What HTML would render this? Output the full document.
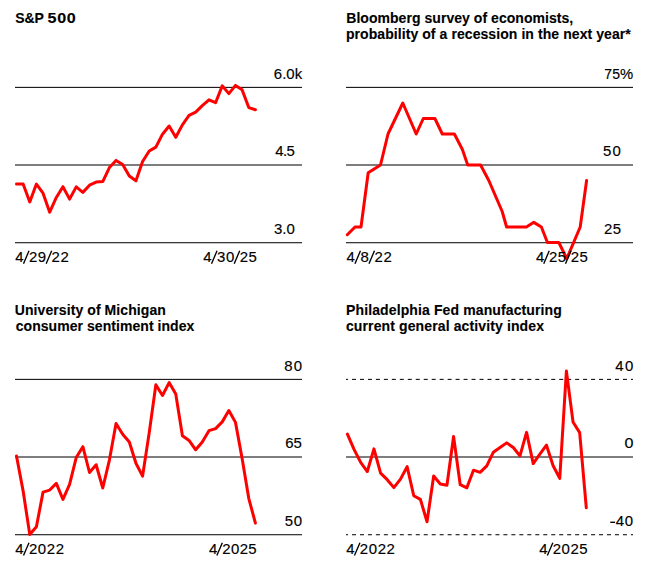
<!DOCTYPE html>
<html><head><meta charset="utf-8"><title>Charts</title>
<style>
html,body{margin:0;padding:0;background:#fff;}
body{width:648px;height:566px;overflow:hidden;}
svg{display:block;}
text{font-family:"Liberation Sans",sans-serif;font-size:14px;fill:#000;}
text{stroke:#000;stroke-width:0.15px;} text[font-weight="bold"]{stroke-width:0.12px;}
</style></head><body>
<svg width="648" height="566" viewBox="0 0 648 566">
<rect width="648" height="566" fill="#fff"/>
<rect x="15.000" y="86" width="287.000" height="1" fill="#dcdcdc"/>
<rect x="15.000" y="87" width="287.000" height="1" fill="#1e1e1e"/>
<rect x="15.000" y="164" width="287.000" height="2" fill="#7e7e7e"/>
<rect x="15.000" y="242" width="287.000" height="1" fill="#3a3a3a"/>
<rect x="15.000" y="243" width="287.000" height="1" fill="#c4c4c4"/>
<rect x="346.000" y="86" width="287.000" height="1" fill="#dcdcdc"/>
<rect x="346.000" y="87" width="287.000" height="1" fill="#1e1e1e"/>
<rect x="346.000" y="164" width="287.000" height="2" fill="#7e7e7e"/>
<rect x="346.000" y="242" width="287.000" height="1" fill="#3a3a3a"/>
<rect x="346.000" y="243" width="287.000" height="1" fill="#c4c4c4"/>
<rect x="15.000" y="378" width="287.000" height="1" fill="#dcdcdc"/>
<rect x="15.000" y="379" width="287.000" height="1" fill="#1e1e1e"/>
<rect x="15.000" y="456" width="287.000" height="2" fill="#7e7e7e"/>
<rect x="15.000" y="534" width="287.000" height="1" fill="#3a3a3a"/>
<rect x="15.000" y="535" width="287.000" height="1" fill="#c4c4c4"/>
<rect x="346.000" y="378" width="2.031" height="1" fill="#dcdcdc"/><rect x="352.000" y="378" width="4.000" height="1" fill="#dcdcdc"/><rect x="359.969" y="378" width="4.000" height="1" fill="#dcdcdc"/><rect x="367.938" y="378" width="4.000" height="1" fill="#dcdcdc"/><rect x="375.907" y="378" width="4.000" height="1" fill="#dcdcdc"/><rect x="383.876" y="378" width="4.000" height="1" fill="#dcdcdc"/><rect x="391.845" y="378" width="4.000" height="1" fill="#dcdcdc"/><rect x="399.814" y="378" width="4.000" height="1" fill="#dcdcdc"/><rect x="407.783" y="378" width="4.000" height="1" fill="#dcdcdc"/><rect x="415.752" y="378" width="4.000" height="1" fill="#dcdcdc"/><rect x="423.721" y="378" width="4.000" height="1" fill="#dcdcdc"/><rect x="431.690" y="378" width="4.000" height="1" fill="#dcdcdc"/><rect x="439.659" y="378" width="4.000" height="1" fill="#dcdcdc"/><rect x="447.628" y="378" width="4.000" height="1" fill="#dcdcdc"/><rect x="455.597" y="378" width="4.000" height="1" fill="#dcdcdc"/><rect x="463.566" y="378" width="4.000" height="1" fill="#dcdcdc"/><rect x="471.535" y="378" width="4.000" height="1" fill="#dcdcdc"/><rect x="479.504" y="378" width="4.000" height="1" fill="#dcdcdc"/><rect x="487.473" y="378" width="4.000" height="1" fill="#dcdcdc"/><rect x="495.442" y="378" width="4.000" height="1" fill="#dcdcdc"/><rect x="503.411" y="378" width="4.000" height="1" fill="#dcdcdc"/><rect x="511.380" y="378" width="4.000" height="1" fill="#dcdcdc"/><rect x="519.349" y="378" width="4.000" height="1" fill="#dcdcdc"/><rect x="527.318" y="378" width="4.000" height="1" fill="#dcdcdc"/><rect x="535.287" y="378" width="4.000" height="1" fill="#dcdcdc"/><rect x="543.256" y="378" width="4.000" height="1" fill="#dcdcdc"/><rect x="551.225" y="378" width="4.000" height="1" fill="#dcdcdc"/><rect x="559.194" y="378" width="4.000" height="1" fill="#dcdcdc"/><rect x="567.163" y="378" width="4.000" height="1" fill="#dcdcdc"/><rect x="575.132" y="378" width="4.000" height="1" fill="#dcdcdc"/><rect x="583.101" y="378" width="4.000" height="1" fill="#dcdcdc"/><rect x="591.070" y="378" width="4.000" height="1" fill="#dcdcdc"/><rect x="599.039" y="378" width="4.000" height="1" fill="#dcdcdc"/><rect x="607.008" y="378" width="4.000" height="1" fill="#dcdcdc"/><rect x="614.977" y="378" width="4.000" height="1" fill="#dcdcdc"/><rect x="622.946" y="378" width="4.000" height="1" fill="#dcdcdc"/><rect x="630.915" y="378" width="2.085" height="1" fill="#dcdcdc"/>
<rect x="346.000" y="379" width="2.031" height="1" fill="#1e1e1e"/><rect x="352.000" y="379" width="4.000" height="1" fill="#1e1e1e"/><rect x="359.969" y="379" width="4.000" height="1" fill="#1e1e1e"/><rect x="367.938" y="379" width="4.000" height="1" fill="#1e1e1e"/><rect x="375.907" y="379" width="4.000" height="1" fill="#1e1e1e"/><rect x="383.876" y="379" width="4.000" height="1" fill="#1e1e1e"/><rect x="391.845" y="379" width="4.000" height="1" fill="#1e1e1e"/><rect x="399.814" y="379" width="4.000" height="1" fill="#1e1e1e"/><rect x="407.783" y="379" width="4.000" height="1" fill="#1e1e1e"/><rect x="415.752" y="379" width="4.000" height="1" fill="#1e1e1e"/><rect x="423.721" y="379" width="4.000" height="1" fill="#1e1e1e"/><rect x="431.690" y="379" width="4.000" height="1" fill="#1e1e1e"/><rect x="439.659" y="379" width="4.000" height="1" fill="#1e1e1e"/><rect x="447.628" y="379" width="4.000" height="1" fill="#1e1e1e"/><rect x="455.597" y="379" width="4.000" height="1" fill="#1e1e1e"/><rect x="463.566" y="379" width="4.000" height="1" fill="#1e1e1e"/><rect x="471.535" y="379" width="4.000" height="1" fill="#1e1e1e"/><rect x="479.504" y="379" width="4.000" height="1" fill="#1e1e1e"/><rect x="487.473" y="379" width="4.000" height="1" fill="#1e1e1e"/><rect x="495.442" y="379" width="4.000" height="1" fill="#1e1e1e"/><rect x="503.411" y="379" width="4.000" height="1" fill="#1e1e1e"/><rect x="511.380" y="379" width="4.000" height="1" fill="#1e1e1e"/><rect x="519.349" y="379" width="4.000" height="1" fill="#1e1e1e"/><rect x="527.318" y="379" width="4.000" height="1" fill="#1e1e1e"/><rect x="535.287" y="379" width="4.000" height="1" fill="#1e1e1e"/><rect x="543.256" y="379" width="4.000" height="1" fill="#1e1e1e"/><rect x="551.225" y="379" width="4.000" height="1" fill="#1e1e1e"/><rect x="559.194" y="379" width="4.000" height="1" fill="#1e1e1e"/><rect x="567.163" y="379" width="4.000" height="1" fill="#1e1e1e"/><rect x="575.132" y="379" width="4.000" height="1" fill="#1e1e1e"/><rect x="583.101" y="379" width="4.000" height="1" fill="#1e1e1e"/><rect x="591.070" y="379" width="4.000" height="1" fill="#1e1e1e"/><rect x="599.039" y="379" width="4.000" height="1" fill="#1e1e1e"/><rect x="607.008" y="379" width="4.000" height="1" fill="#1e1e1e"/><rect x="614.977" y="379" width="4.000" height="1" fill="#1e1e1e"/><rect x="622.946" y="379" width="4.000" height="1" fill="#1e1e1e"/><rect x="630.915" y="379" width="2.085" height="1" fill="#1e1e1e"/>
<rect x="346.000" y="456" width="287.000" height="2" fill="#7e7e7e"/>
<rect x="346.000" y="534" width="2.031" height="1" fill="#3a3a3a"/><rect x="352.000" y="534" width="4.000" height="1" fill="#3a3a3a"/><rect x="359.969" y="534" width="4.000" height="1" fill="#3a3a3a"/><rect x="367.938" y="534" width="4.000" height="1" fill="#3a3a3a"/><rect x="375.907" y="534" width="4.000" height="1" fill="#3a3a3a"/><rect x="383.876" y="534" width="4.000" height="1" fill="#3a3a3a"/><rect x="391.845" y="534" width="4.000" height="1" fill="#3a3a3a"/><rect x="399.814" y="534" width="4.000" height="1" fill="#3a3a3a"/><rect x="407.783" y="534" width="4.000" height="1" fill="#3a3a3a"/><rect x="415.752" y="534" width="4.000" height="1" fill="#3a3a3a"/><rect x="423.721" y="534" width="4.000" height="1" fill="#3a3a3a"/><rect x="431.690" y="534" width="4.000" height="1" fill="#3a3a3a"/><rect x="439.659" y="534" width="4.000" height="1" fill="#3a3a3a"/><rect x="447.628" y="534" width="4.000" height="1" fill="#3a3a3a"/><rect x="455.597" y="534" width="4.000" height="1" fill="#3a3a3a"/><rect x="463.566" y="534" width="4.000" height="1" fill="#3a3a3a"/><rect x="471.535" y="534" width="4.000" height="1" fill="#3a3a3a"/><rect x="479.504" y="534" width="4.000" height="1" fill="#3a3a3a"/><rect x="487.473" y="534" width="4.000" height="1" fill="#3a3a3a"/><rect x="495.442" y="534" width="4.000" height="1" fill="#3a3a3a"/><rect x="503.411" y="534" width="4.000" height="1" fill="#3a3a3a"/><rect x="511.380" y="534" width="4.000" height="1" fill="#3a3a3a"/><rect x="519.349" y="534" width="4.000" height="1" fill="#3a3a3a"/><rect x="527.318" y="534" width="4.000" height="1" fill="#3a3a3a"/><rect x="535.287" y="534" width="4.000" height="1" fill="#3a3a3a"/><rect x="543.256" y="534" width="4.000" height="1" fill="#3a3a3a"/><rect x="551.225" y="534" width="4.000" height="1" fill="#3a3a3a"/><rect x="559.194" y="534" width="4.000" height="1" fill="#3a3a3a"/><rect x="567.163" y="534" width="4.000" height="1" fill="#3a3a3a"/><rect x="575.132" y="534" width="4.000" height="1" fill="#3a3a3a"/><rect x="583.101" y="534" width="4.000" height="1" fill="#3a3a3a"/><rect x="591.070" y="534" width="4.000" height="1" fill="#3a3a3a"/><rect x="599.039" y="534" width="4.000" height="1" fill="#3a3a3a"/><rect x="607.008" y="534" width="4.000" height="1" fill="#3a3a3a"/><rect x="614.977" y="534" width="4.000" height="1" fill="#3a3a3a"/><rect x="622.946" y="534" width="4.000" height="1" fill="#3a3a3a"/><rect x="630.915" y="534" width="2.085" height="1" fill="#3a3a3a"/>
<rect x="346.000" y="535" width="2.031" height="1" fill="#c4c4c4"/><rect x="352.000" y="535" width="4.000" height="1" fill="#c4c4c4"/><rect x="359.969" y="535" width="4.000" height="1" fill="#c4c4c4"/><rect x="367.938" y="535" width="4.000" height="1" fill="#c4c4c4"/><rect x="375.907" y="535" width="4.000" height="1" fill="#c4c4c4"/><rect x="383.876" y="535" width="4.000" height="1" fill="#c4c4c4"/><rect x="391.845" y="535" width="4.000" height="1" fill="#c4c4c4"/><rect x="399.814" y="535" width="4.000" height="1" fill="#c4c4c4"/><rect x="407.783" y="535" width="4.000" height="1" fill="#c4c4c4"/><rect x="415.752" y="535" width="4.000" height="1" fill="#c4c4c4"/><rect x="423.721" y="535" width="4.000" height="1" fill="#c4c4c4"/><rect x="431.690" y="535" width="4.000" height="1" fill="#c4c4c4"/><rect x="439.659" y="535" width="4.000" height="1" fill="#c4c4c4"/><rect x="447.628" y="535" width="4.000" height="1" fill="#c4c4c4"/><rect x="455.597" y="535" width="4.000" height="1" fill="#c4c4c4"/><rect x="463.566" y="535" width="4.000" height="1" fill="#c4c4c4"/><rect x="471.535" y="535" width="4.000" height="1" fill="#c4c4c4"/><rect x="479.504" y="535" width="4.000" height="1" fill="#c4c4c4"/><rect x="487.473" y="535" width="4.000" height="1" fill="#c4c4c4"/><rect x="495.442" y="535" width="4.000" height="1" fill="#c4c4c4"/><rect x="503.411" y="535" width="4.000" height="1" fill="#c4c4c4"/><rect x="511.380" y="535" width="4.000" height="1" fill="#c4c4c4"/><rect x="519.349" y="535" width="4.000" height="1" fill="#c4c4c4"/><rect x="527.318" y="535" width="4.000" height="1" fill="#c4c4c4"/><rect x="535.287" y="535" width="4.000" height="1" fill="#c4c4c4"/><rect x="543.256" y="535" width="4.000" height="1" fill="#c4c4c4"/><rect x="551.225" y="535" width="4.000" height="1" fill="#c4c4c4"/><rect x="559.194" y="535" width="4.000" height="1" fill="#c4c4c4"/><rect x="567.163" y="535" width="4.000" height="1" fill="#c4c4c4"/><rect x="575.132" y="535" width="4.000" height="1" fill="#c4c4c4"/><rect x="583.101" y="535" width="4.000" height="1" fill="#c4c4c4"/><rect x="591.070" y="535" width="4.000" height="1" fill="#c4c4c4"/><rect x="599.039" y="535" width="4.000" height="1" fill="#c4c4c4"/><rect x="607.008" y="535" width="4.000" height="1" fill="#c4c4c4"/><rect x="614.977" y="535" width="4.000" height="1" fill="#c4c4c4"/><rect x="622.946" y="535" width="4.000" height="1" fill="#c4c4c4"/><rect x="630.915" y="535" width="2.085" height="1" fill="#c4c4c4"/>
<path d="M16.50,184.02 L23.14,184.01 L29.77,201.92 L36.41,184.10 L43.04,193.16 L49.68,212.24 L56.32,197.45 L62.95,186.69 L69.59,199.13 L76.22,186.88 L82.86,192.38 L89.50,185.19 L96.13,182.08 L102.77,181.54 L109.40,167.56 L116.04,160.40 L122.68,164.60 L129.31,175.95 L135.95,180.82 L142.58,161.50 L149.22,151.06 L155.86,147.14 L162.49,134.19 L169.13,126.03 L175.76,137.32 L182.40,124.83 L189.04,115.38 L195.67,112.18 L202.31,105.67 L208.94,99.77 L215.58,102.72 L222.22,85.83 L228.85,93.62 L235.49,85.41 L242.12,89.85 L248.76,107.55 L255.40,109.77" fill="none" stroke="#ff0000" stroke-width="3" stroke-linejoin="round" stroke-linecap="round"/>
<path d="M347.30,234.75 L355.00,227.00 L361.00,227.00 L368.20,172.75 L380.50,165.00 L388.00,134.00 L402.80,103.00 L416.20,134.00 L423.30,118.50 L434.90,118.50 L442.30,134.00 L454.40,134.00 L462.40,149.50 L467.70,165.00 L480.60,165.00 L488.80,180.50 L502.20,211.50 L506.60,227.00 L526.40,227.00 L533.80,222.35 L541.40,227.00 L547.40,242.50 L558.80,242.50 L566.80,258.62 L580.20,227.00 L586.60,180.50" fill="none" stroke="#ff0000" stroke-width="3" stroke-linejoin="round" stroke-linecap="round"/>
<path d="M16.50,455.97 L23.14,491.10 L29.77,534.50 L36.41,526.75 L43.04,492.13 L49.68,490.07 L56.32,483.35 L62.95,499.37 L69.59,484.38 L76.22,457.52 L82.86,446.67 L89.50,472.50 L96.13,464.75 L102.77,488.00 L109.40,460.10 L116.04,423.42 L122.68,434.27 L129.31,442.02 L135.95,463.20 L142.58,476.12 L149.22,432.72 L155.86,384.67 L162.49,395.52 L169.13,382.60 L175.76,393.97 L182.40,435.82 L189.04,440.47 L195.67,449.77 L202.31,442.02 L208.94,430.65 L215.58,428.58 L222.22,421.87 L228.85,410.50 L235.49,422.38 L242.12,458.55 L248.76,498.33 L255.40,523.13" fill="none" stroke="#ff0000" stroke-width="3" stroke-linejoin="round" stroke-linecap="round"/>
<path d="M347.40,434.14 L354.04,449.44 L360.67,462.43 L367.31,471.53 L373.94,448.86 L380.58,473.08 L387.22,479.67 L393.85,487.61 L400.49,479.09 L407.12,466.69 L413.76,495.75 L420.40,499.43 L427.03,521.71 L433.67,475.99 L440.30,483.93 L446.94,485.29 L453.58,436.46 L460.21,484.71 L466.85,487.81 L473.48,470.18 L480.12,472.31 L486.76,465.91 L493.39,452.16 L500.03,447.51 L506.66,442.86 L513.30,447.51 L519.94,455.84 L526.57,432.39 L533.21,463.59 L539.84,454.09 L546.48,445.18 L553.12,465.72 L559.75,478.31 L566.39,370.98 L573.02,421.93 L579.66,432.59 L586.30,507.76" fill="none" stroke="#ff0000" stroke-width="3" stroke-linejoin="round" stroke-linecap="round"/>
<text id="t1a" transform="translate(15.306,22.8)" letter-spacing="-0.086" font-weight="bold">S&amp;P</text>
<text id="t1b" transform="translate(47.471,22.8) scale(1.15,1)" letter-spacing="0.642" font-weight="bold">500</text>
<text id="t2a" transform="translate(346.224,22.8)" letter-spacing="0.046" font-weight="bold">Bloomberg survey of economists,</text>
<text id="t2b" transform="translate(345.886,39.4)" letter-spacing="0.075" font-weight="bold">probability of a recession in the next year*</text>
<text id="t3a" transform="translate(14.733,314.8)" letter-spacing="0.084" font-weight="bold">University of Michigan</text>
<text id="t3b" transform="translate(15.722,331.4)" letter-spacing="0.054" font-weight="bold">consumer sentiment index</text>
<text id="t4a" transform="translate(346.016,314.8)" letter-spacing="0.119" font-weight="bold">Philadelphia Fed manufacturing</text>
<text id="t4b" transform="translate(345.922,331.4)" letter-spacing="0.122" font-weight="bold">current general activity index</text>
<text id="y1a" transform="translate(273.780,78.8) scale(1.07,1)" letter-spacing="0.040">6.0k</text>
<text id="y1b" transform="translate(275.267,156.0) scale(1.07,1)" letter-spacing="-0.599">4.5</text>
<text id="y1c" transform="translate(274.090,233.8) scale(1.07,1)" letter-spacing="-0.062">3.0</text>
<text id="y2a" transform="translate(604.340,78.8)" letter-spacing="0.000">75</text>
<text id="y2p" transform="translate(619.900,78.8) scale(1.06,1)" letter-spacing="0.000">%</text>
<text id="y2b" transform="translate(603.055,156.0) scale(1.07,1)" letter-spacing="1.138">50</text>
<text id="y2c" transform="translate(604.102,233.8) scale(1.07,1)" letter-spacing="0.381">25</text>
<text id="y3a" transform="translate(284.353,370.8) scale(1.07,1)" letter-spacing="1.057">80</text>
<text id="y3b" transform="translate(285.333,448.0) scale(1.07,1)" letter-spacing="-0.070">65</text>
<text id="y3c" transform="translate(284.847,525.8) scale(1.07,1)" letter-spacing="0.603">50</text>
<text id="y4a" transform="translate(615.235,370.8) scale(1.07,1)" letter-spacing="1.371">40</text>
<text id="y4b" transform="translate(624.463,448.0) scale(1.15,1)" letter-spacing="2.439">0</text>
<rect x="610.3" y="521.6" width="4.8" height="1.4" fill="#000"/>
<text id="y4c" transform="translate(609.969,525.8) scale(1.07,1)" letter-spacing="0.666"><tspan fill="transparent" stroke="none">-</tspan>40</text>
<text id="x1a" transform="translate(15.216,261.7) scale(1.07,1)" letter-spacing="0.573">4<tspan fill="transparent" stroke="none">/</tspan>29<tspan fill="transparent" stroke="none">/</tspan>22</text>
<text id="x1b" transform="translate(203.247,261.7) scale(1.07,1)" letter-spacing="0.579">4<tspan fill="transparent" stroke="none">/</tspan>30<tspan fill="transparent" stroke="none">/</tspan>25</text>
<text id="x2a" transform="translate(346.455,261.7) scale(1.07,1)" letter-spacing="0.713">4<tspan fill="transparent" stroke="none">/</tspan>8<tspan fill="transparent" stroke="none">/</tspan>22</text>
<text id="x2b" transform="translate(535.886,261.7) scale(1.07,1)" letter-spacing="0.297">4<tspan fill="transparent" stroke="none">/</tspan>25<tspan fill="transparent" stroke="none">/</tspan>25</text>
<text id="x3a" transform="translate(15.235,553.6) scale(1.07,1)" letter-spacing="0.550">4<tspan fill="transparent" stroke="none">/</tspan>2022</text>
<text id="x3b" transform="translate(208.886,553.6) scale(1.07,1)" letter-spacing="0.372">4<tspan fill="transparent" stroke="none">/</tspan>2025</text>
<text id="x4a" transform="translate(346.235,553.6) scale(1.07,1)" letter-spacing="0.524">4<tspan fill="transparent" stroke="none">/</tspan>2022</text>
<text id="x4b" transform="translate(539.216,553.6) scale(1.07,1)" letter-spacing="0.477">4<tspan fill="transparent" stroke="none">/</tspan>2025</text>
<line x1="29.00" y1="250.80" x2="23.50" y2="263.70" stroke="#000" stroke-width="1.35"/>
<line x1="51.67" y1="250.80" x2="46.17" y2="263.70" stroke="#000" stroke-width="1.35"/>
<line x1="217.03" y1="250.80" x2="211.53" y2="263.70" stroke="#000" stroke-width="1.35"/>
<line x1="239.70" y1="250.80" x2="234.20" y2="263.70" stroke="#000" stroke-width="1.35"/>
<line x1="360.46" y1="250.80" x2="354.96" y2="263.70" stroke="#000" stroke-width="1.35"/>
<line x1="374.47" y1="250.80" x2="368.97" y2="263.70" stroke="#000" stroke-width="1.35"/>
<line x1="549.23" y1="250.80" x2="543.73" y2="263.70" stroke="#000" stroke-width="1.35"/>
<line x1="571.01" y1="250.80" x2="565.51" y2="263.70" stroke="#000" stroke-width="1.35"/>
<line x1="28.99" y1="542.70" x2="23.49" y2="555.60" stroke="#000" stroke-width="1.35"/>
<line x1="222.35" y1="542.70" x2="216.85" y2="555.60" stroke="#000" stroke-width="1.35"/>
<line x1="359.95" y1="542.70" x2="354.45" y2="555.60" stroke="#000" stroke-width="1.35"/>
<line x1="552.85" y1="542.70" x2="547.35" y2="555.60" stroke="#000" stroke-width="1.35"/>
</svg>
</body></html>
